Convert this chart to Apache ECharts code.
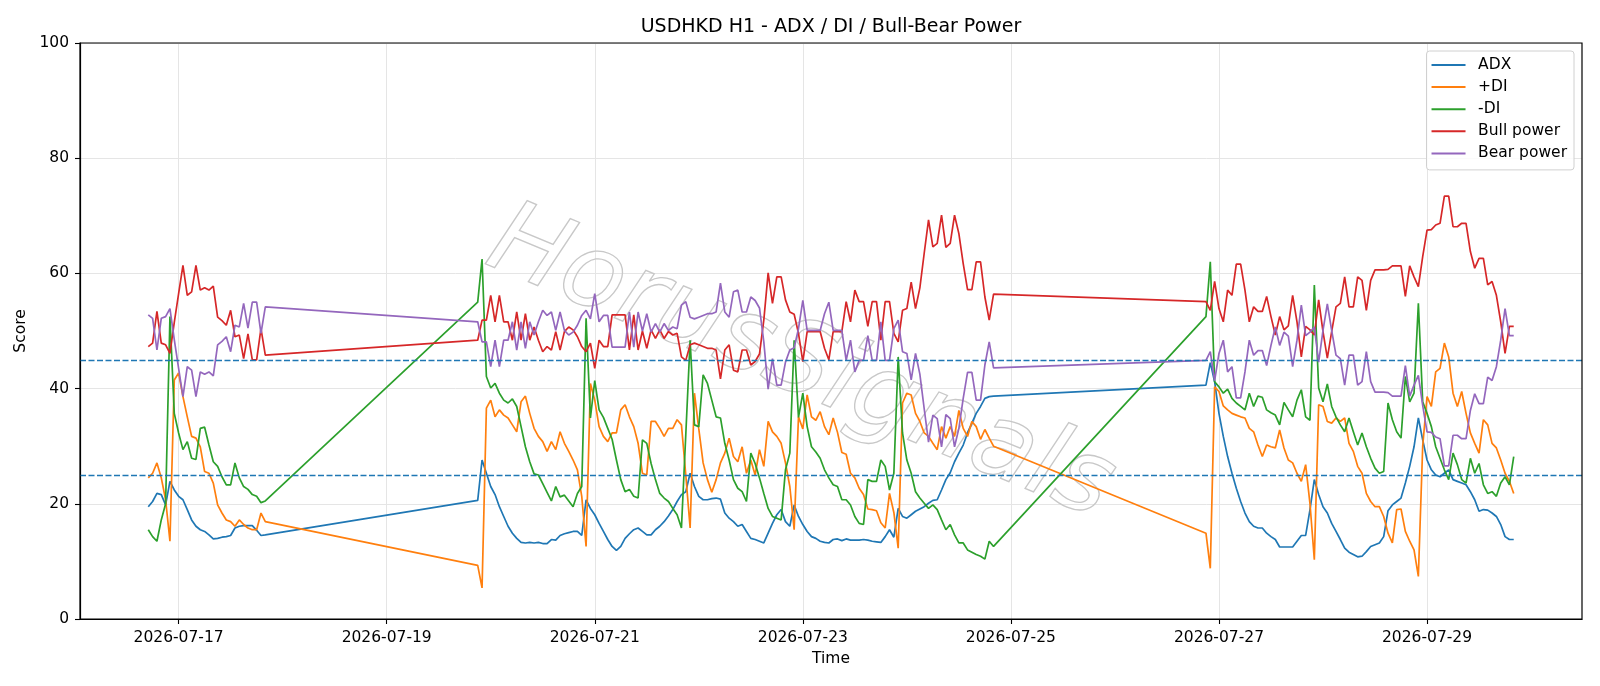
<!DOCTYPE html>
<html>
  <head>
    <title>USDHKD H1 - ADX / DI / Bull-Bear Power</title>
    <meta charset="UTF-8" />
    <script src="https://cdn.jsdelivr.net/npm/echarts@6/dist/echarts.min.js"></script>
    <style>
      body { margin: 0; background: #fff; }
    </style>
  </head>
  <body>
    <div id="main"></div>
    <script>
      const width = 1600;
      const height = 686;
      const main = document.getElementById('main');
      main.style.width = `${width}px`;
      main.style.height = `${height}px`;

      // hourly bars, one block per trading week (UTC start, number of bars)
      const sessionStarts = ['2026-07-16T17:00:00Z', '2026-07-19T21:00:00Z', '2026-07-26T21:00:00Z'];
      const sessionLengths = [28, 120, 72];

      const xTickLabels = ['2026-07-17', '2026-07-19', '2026-07-21', '2026-07-23', '2026-07-25', '2026-07-27', '2026-07-29'];

      const adx = [
        19.5, 20.4, 21.8, 21.6, 19.8, 23.9, 22.4, 21.3, 20.7, 19, 17.2, 16.1, 15.5, 15.2, 14.6, 13.9, 14, 14.2, 14.3, 14.5,
        15.8, 16.1, 16.2, 16.2, 16.2, 15.4, 14.5, 14.6,
        20.6, 27.6, 25.3, 23, 21.6, 19.5, 17.8, 16.1, 14.9, 14, 13.3, 13.2, 13.3, 13.2, 13.3, 13.1, 13.1, 13.8, 13.7, 14.5,
        14.8, 15, 15.2, 15.2, 14.5, 20.7, 19.2, 18.1, 16.6, 15.2, 13.8, 12.6, 11.9, 12.6, 14, 14.8, 15.5, 15.8, 15.2, 14.6,
        14.6, 15.5, 16.1, 16.9, 17.9, 19, 20.4, 21.6, 22.1, 25.3, 23, 21.3, 20.7, 20.7, 20.9, 21, 20.8, 18.4, 17.5, 16.9,
        16.1, 16.4, 15.2, 14, 13.8, 13.5, 13.2, 14.9, 16.6, 18.1, 19, 16.9, 16.1, 19.8, 17.8, 16.4, 15.2, 14.3, 14, 13.5,
        13.3, 13.2, 13.8, 13.9, 13.6, 13.9, 13.7, 13.7, 13.7, 13.8, 13.7, 13.5, 13.4, 13.3, 14.3, 15.5, 14.2, 19.2, 17.8, 17.5,
        18.1, 18.7, 19.1, 19.5, 20.1, 20.6, 20.7, 22.4, 24.2, 25.4, 27.3, 28.8, 30.2, 32.3, 34, 35.7, 36.9, 38.3, 38.6, 38.7,
        40.6, 44.5, 41.2, 35.7, 31.7, 28.2, 25.3, 22.7, 20.4, 18.4, 16.9, 16.1, 15.8, 15.8, 14.9, 14.3, 13.8, 12.5, 12.5, 12.5,
        12.5, 13.5, 14.5, 14.5, 19, 24.2, 21.6, 19.5, 18.4, 16.6, 15.2, 13.8, 12.3, 11.6, 11.2, 10.8, 10.9, 11.7, 12.6, 12.9,
        13.2, 14.3, 18.8, 19.8, 20.4, 21, 23.6, 26.5, 29.9, 34.9, 31.1, 27.6, 25.9, 25, 24.7, 25.3, 25.9, 24.2, 23.9, 23.6,
        23.3, 22.1, 20.7, 18.7, 19, 18.9, 18.4, 17.8, 16.4, 14.3, 13.8, 13.8
      ];

      const plusDI = [
        24.5, 25.3, 27.1, 24.5, 20.7, 13.5, 41.5, 42.7, 38.6, 35.1, 31.7, 31.4, 29.9, 25.6, 25.3, 23.6, 19.8, 18.4, 17.2, 16.9,
        16.1, 17.2, 16.4, 15.8, 15.5, 15.5, 18.4, 16.9,
        9.3, 5.4, 36.6, 38, 35.1, 36.3, 35.4, 34.9, 33.7, 32.5, 37.7, 38.7, 35.7, 33.1, 31.7, 30.8, 29.1, 30.8, 29.4, 32.5,
        30.5, 29.1, 27.6, 25.9, 21.3, 12.6, 40.9, 38, 33.4, 31.7, 30.8, 32.3, 32.3, 36.3, 37.2, 35.1, 33.4, 30.5, 25.3, 25,
        34.3, 34.3, 33.1, 31.7, 33.1, 33.1, 34.6, 33.7, 25, 15.8, 39.2, 33, 27.1, 24.2, 22, 24.2, 27.1, 28.8, 31.4, 28.2,
        27.3, 29.9, 25.3, 27.6, 25, 29.4, 26.5, 34.3, 32.5, 31.7, 30.5, 27.1, 23, 15.5, 35.1, 33, 38.9, 35.1, 34.5, 36,
        33.4, 32, 34.9, 32.4, 28.9, 28.6, 25.3, 24.5, 22.7, 21.6, 19.1, 19, 18.8, 16.7, 15.8, 21.8, 18.5, 12.3, 37.5, 39.2,
        38.9, 35.7, 34.3, 32.3, 31.7, 30.5, 29.4, 33.4, 31.4, 33.4, 31.7, 36.2, 33.1, 31.7, 34.3, 33.4, 31.2, 32.9, 31.4, 30,
        14.9, 8.8, 40.3, 39.5, 37, 36.3, 35.7, 35.4, 35.1, 34.9, 33.1, 32.5, 30.2, 28.2, 30.2, 29.9, 29.7, 32.8, 29.7, 27.6,
        27.1, 25.3, 23.9, 26.8, 20, 10.3, 37.2, 36.9, 34.3, 34, 34.9, 34.3, 34.9, 30.5, 29.1, 26.5, 25.3, 21.8, 20.4, 19.5,
        19.5, 17.8, 14.9, 13.2, 19, 19.1, 15.2, 13.5, 12, 7.4, 30, 38.6, 36.9, 42.9, 43.5, 47.9, 45.5, 39.2, 36.9, 39.5,
        35.7, 32.3, 30.5, 28.8, 34.6, 33.7, 30.5, 29.7, 27.6, 25.3, 23.9, 21.8
      ];

      const minusDI = [
        15.5, 14.3, 13.5, 17.2, 20, 52.5, 35.7, 32.3, 29.4, 30.8, 27.9, 27.7, 33.1, 33.3, 30.2, 27.3, 26.5, 24.7, 23.3, 23.3,
        27.1, 24.5, 23, 22.5, 21.6, 21.3, 20.2, 20.5,
        55, 62.5, 42.1, 40.1, 40.9, 39.2, 38, 37.5, 38.2, 36.9, 33.4, 29.9, 27.3, 25.2, 25, 23.5, 22, 20.5, 23, 21.2,
        21.5, 20.5, 19.5, 21.8, 23, 52.2, 34.9, 41.4, 36.3, 35, 33.1, 31.2, 27.6, 24.2, 22.1, 22.5, 21.3, 21, 31.1, 30.5,
        27, 24.2, 21.8, 21, 20.4, 19.2, 18.1, 15.8, 32, 48.4, 33.7, 33.4, 42.4, 40.9, 38, 35.1, 34.9, 30.5, 27.6, 24.2,
        22.7, 22.1, 20.4, 28.8, 27, 24.5, 21.8, 19.2, 17.8, 17.5, 17.2, 25.9, 28.8, 48.4, 35, 39.2, 33.4, 29.9, 29, 27.9,
        25.9, 24.5, 23.3, 23, 20.7, 20.7, 19.8, 17.8, 16.6, 16.4, 24.2, 23.9, 23.9, 27.6, 26.5, 22.4, 25.3, 45.5, 32.3, 27.6,
        25.3, 22.1, 21, 20.1, 19.2, 19.8, 19, 17.2, 15.5, 16.4, 14.6, 13.2, 13.2, 12, 11.6, 11.2, 10.9, 10.4, 13.5, 12.6,
        52.5, 62, 41.2, 40.3, 39.2, 39.9, 38.3, 37.5, 36.9, 36.3, 39.2, 36.9, 38.7, 38.5, 36.3, 35.8, 35.4, 33.7, 37.6, 36.3,
        35.1, 38, 39.8, 35.1, 34.5, 58, 40.1, 37.7, 40.8, 36.9, 35.1, 33.7, 32.5, 34.9, 32.5, 30.2, 32.3, 29.9, 27.9, 26.2,
        25.3, 25.6, 37.5, 34.6, 32.5, 31.4, 42.1, 37.7, 39.2, 54.8, 37.7, 35.7, 33.4, 29.9, 27.9, 25.9, 24.2, 28.8, 26.8, 24.2,
        23.6, 27.9, 25.3, 27, 23.3, 21.8, 22.1, 21.3, 23.6, 24.7, 23.3, 28.2
      ];

      const bullPower = [
        47.3, 47.9, 53.4, 47.9, 47.6, 46.1, 51.5, 56.5, 61.4, 56.2, 56.8, 61.4, 57.1, 57.5, 57.1, 57.8, 52.4, 51.8, 51, 53.6,
        49, 49.3, 45.2, 49.5, 45, 45, 50.4, 45.8,
        48.4, 51.9, 51.9, 56.2, 51.6, 56.2, 51.6, 51.6, 48.4, 53.3, 48.4, 53, 48.4, 50.7, 48.4, 46.4, 47.3, 46.7, 49.9, 46.7,
        49.9, 50.7, 50.2, 49, 47.3, 46.4, 47.9, 43.5, 48.4, 47.3, 47.3, 52.8, 52.8, 52.8, 52.8, 46.7, 52.8, 46.7, 50, 47,
        50.2, 48.7, 50.2, 48.7, 49.9, 49.3, 49.6, 45.5, 44.9, 47.6, 47.9, 47.6, 47.3, 47, 47, 46.7, 41.7, 46.7, 47.6, 43.2,
        42.9, 46.7, 46.7, 44.1, 44.7, 46, 51.9, 60.1, 54.8, 59.4, 59.4, 55.4, 53.3, 52.9, 49.6, 44.7, 49.9, 49.9, 49.9, 49.9,
        47, 45, 49.9, 49.9, 49.9, 55.1, 51.6, 57.1, 55.1, 55.1, 50.8, 55.1, 55.1, 48.4, 55.1, 55.1, 49.6, 48.1, 53.6, 53.9,
        58.5, 53.9, 57.5, 63.5, 69.3, 64.6, 65.2, 70.1, 64.5, 65.2, 70.1, 66.9, 61.7, 57.2, 57.2, 62, 62, 55.9, 51.9, 56.4,
        55.1, 53.6, 58.6, 53.9, 51.6, 57.1, 56.2, 61.6, 61.6, 57.1, 51.6, 54.2, 53.4, 53.4, 56, 52.5, 49.3, 52.5, 50.2, 50.9,
        56.2, 51.6, 45.5, 50.8, 50.2, 49.3, 55.4, 49.9, 45.3, 49.9, 54.2, 54.8, 59.4, 54.2, 54.2, 59.4, 58.8, 53.6, 58.8, 60.6,
        60.6, 60.6, 60.7, 61.3, 61.3, 61.3, 56, 61.3, 59.4, 57.7, 62.9, 67.5, 67.6, 68.4, 68.7, 73.4, 73.4, 68.1, 68.1, 68.7,
        68.7, 63.8, 60.9, 62.6, 62.6, 58, 58.6, 56.2, 51.6, 46.1, 50.8, 50.8
      ];

      const bearPower = [
        52.8, 52.2, 46.7, 52.2, 52.5, 53.9, 48.5, 43.5, 38.6, 43.8, 43.2, 38.6, 42.9, 42.5, 42.9, 42.2, 47.6, 48.2, 49, 46.4,
        51, 50.7, 54.8, 50.5, 55, 55, 49.6, 54.2,
        51.6, 48.1, 48.1, 43.8, 48.4, 43.8, 48.4, 48.4, 51.6, 46.7, 51.6, 47, 51.6, 49.3, 51.6, 53.6, 52.7, 53.3, 50.1, 53.3,
        50.1, 49.3, 49.8, 51, 52.7, 53.6, 52.1, 56.5, 51.6, 52.7, 52.7, 47.2, 47.2, 47.2, 47.2, 53.3, 47.2, 53.3, 50, 53,
        49.8, 51.3, 49.8, 51.3, 50.1, 50.7, 50.4, 54.5, 55.1, 52.4, 52.1, 52.4, 52.7, 53, 53, 53.3, 58.3, 53.3, 52.4, 56.8,
        57.1, 53.3, 53.3, 55.9, 55.3, 54, 48.1, 39.9, 45.2, 40.6, 40.6, 44.6, 46.7, 47.1, 50.4, 55.3, 50.1, 50.1, 50.1, 50.1,
        53, 55, 50.1, 50.1, 50.1, 44.9, 48.4, 42.9, 44.9, 44.9, 49.2, 44.9, 44.9, 51.6, 44.9, 44.9, 50.4, 51.9, 46.4, 46.1,
        41.5, 46.1, 42.5, 36.5, 30.7, 35.4, 34.8, 29.9, 35.5, 34.8, 29.9, 33.1, 38.3, 42.8, 42.8, 38, 38, 44.1, 48.1, 43.6,
        44.9, 46.4, 41.4, 46.1, 48.4, 42.9, 43.8, 38.4, 38.4, 42.9, 48.4, 45.8, 46.6, 46.6, 44, 47.5, 50.7, 47.5, 49.8, 49.1,
        43.8, 48.4, 54.5, 49.2, 49.8, 50.7, 44.6, 50.1, 54.7, 50.1, 45.8, 45.2, 40.6, 45.8, 45.8, 40.6, 41.2, 46.4, 41.2, 39.4,
        39.4, 39.4, 39.3, 38.7, 38.7, 38.7, 44, 38.7, 40.6, 42.3, 37.1, 32.5, 32.4, 31.6, 31.3, 26.6, 26.6, 31.9, 31.9, 31.3,
        31.3, 36.2, 39.1, 37.4, 37.4, 42, 41.4, 43.8, 48.4, 53.9, 49.2, 49.2
      ];

      const HOUR = 3600 * 1000;
      const times = [];
      sessionStarts.forEach((start, s) => {
        const t0 = Date.parse(start);
        for (let i = 0; i < sessionLengths[s]; i++) {
          times.push(t0 + i * HOUR);
        }
      });

      // matplotlib-style 5% margin on the time axis
      const tFirst = times[0];
      const tLast = times[times.length - 1];
      const pad = (tLast - tFirst) * 0.05;
      const tickValues = xTickLabels.map((d) => Date.parse(d + 'T00:00:00Z'));

      const font = 'DejaVu Sans';
      const colors = ['#1f77b4', '#ff7f0e', '#2ca02c', '#d62728', '#9467bd'];
      const names = ['ADX', '+DI', '-DI', 'Bull power', 'Bear power'];
      const values = [adx, plusDI, minusDI, bullPower, bearPower];

      const series = names.map((name, idx) => ({
        name,
        type: 'line',
        data: times.map((t, i) => [t, values[idx][i]]),
        showSymbol: false,
        symbol: 'none',
        lineStyle: { width: 1.7, color: colors[idx] },
        itemStyle: { color: colors[idx] },
        z: 2 + idx,
      }));

      series[0].markLine = {
        silent: true,
        symbol: ['none', 'none'],
        label: { show: false },
        lineStyle: { color: '#1f77b4', type: [6, 2.5], width: 1.4, opacity: 1 },
        emphasis: { disabled: true },
        data: [{ yAxis: 45 }, { yAxis: 25 }],
        z: 10,
      };

      const myChart = echarts.init(main, null, { renderer: 'canvas' });
      const option = {
        animation: false,
        backgroundColor: '#fff',
        title: {
          text: 'USDHKD H1 - ADX / DI / Bull-Bear Power',
          left: 831,
          textAlign: 'center',
          top: 18,
          padding: 0,
          textStyle: { fontFamily: font, fontSize: 19, fontWeight: 'normal', color: '#000' },
        },
        graphic: [
          {
            // faint rotated watermark behind the lines
            type: 'text',
            x: 800,
            y: 366,
            rotation: -0.394,
            silent: true,
            z: 1,
            style: {
              text: 'HorusSignals',
              x: 0,
              y: 0,
              align: 'center',
              verticalAlign: 'middle',
              font: 'italic 102px "DejaVu Sans"',
              fill: 'rgba(0,0,0,0)',
              stroke: '#c8c8c8',
              lineWidth: 1.3,
            },
          },
        ],
        legend: {
          data: names,
          orient: 'vertical',
          right: 26,
          top: 51,
          icon: 'rect',
          itemWidth: 34,
          itemHeight: 2,
          itemGap: 4.1,
          padding: [5, 7, 7.5, 5],
          backgroundColor: 'rgba(255,255,255,0.85)',
          borderColor: '#d0d0d0',
          borderWidth: 1,
          borderRadius: 3,
          textStyle: { fontFamily: font, fontSize: 15.5, color: '#000', lineHeight: 18, padding: [0, 0, 0, 7.6] },
        },
        grid: {
          left: 80,
          right: 18,
          top: 43,
          bottom: 67,
          show: true,
          borderColor: '#000',
          borderWidth: 1.2,
          z: 20,
        },
        xAxis: {
          type: 'value',
          min: tFirst - pad,
          max: tLast + pad,
          name: 'Time',
          nameLocation: 'middle',
          nameGap: 32,
          nameTextStyle: { fontFamily: font, fontSize: 15.5, color: '#000' },
          axisLine: { lineStyle: { color: '#000', width: 1.2 } },
          axisTick: { show: true, inside: false, length: 5, customValues: tickValues, lineStyle: { color: '#000', width: 1.1 } },
          axisLabel: {
            customValues: tickValues,
            margin: 11,
            fontFamily: font,
            fontSize: 15.5,
            color: '#000',
            formatter: (v) => new Date(v).toISOString().slice(0, 10),
          },
          splitLine: { show: true, lineStyle: { color: '#e5e5e5', width: 1 } },
        },
        yAxis: {
          type: 'value',
          min: 0,
          max: 100,
          interval: 20,
          name: 'Score',
          nameLocation: 'middle',
          nameGap: 46,
          nameRotate: 90,
          nameTextStyle: { fontFamily: font, fontSize: 15.5, color: '#000' },
          axisLine: { show: true, lineStyle: { color: '#000', width: 1.2 } },
          axisTick: { show: true, inside: false, length: 5, lineStyle: { color: '#000', width: 1.1 } },
          axisLabel: { margin: 11, fontFamily: font, fontSize: 15.5, color: '#000' },
          splitLine: { show: true, lineStyle: { color: '#e5e5e5', width: 1 } },
        },
        series,
      };
      myChart.setOption(option);
    </script>
  </body>
</html>
